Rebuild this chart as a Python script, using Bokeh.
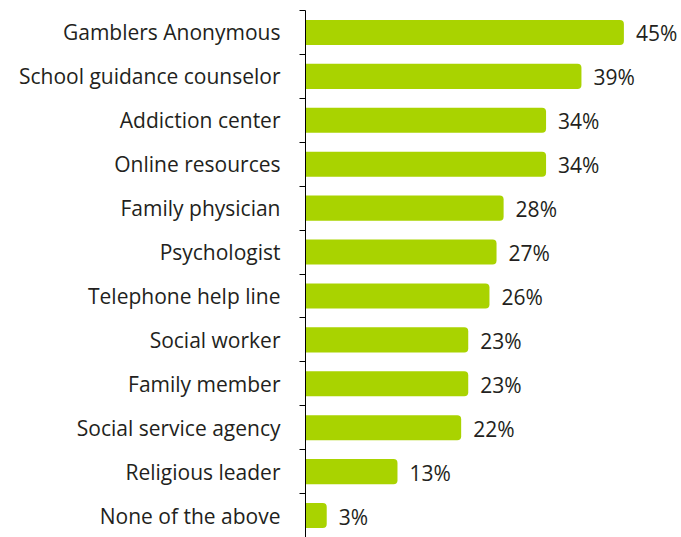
from bokeh.plotting import figure
from bokeh.models import ColumnDataSource, FixedTicker, Range1d
from bokeh.embed import file_html
from bokeh.resources import INLINE
from bokeh.core.properties import value

categories = [
    "Gamblers Anonymous",
    "School guidance counselor",
    "Addiction center",
    "Online resources",
    "Family physician",
    "Psychologist",
    "Telephone help line",
    "Social worker",
    "Family member",
    "Social service agency",
    "Religious leader",
    "None of the above",
]
values = [45, 39, 34, 34, 28, 27, 26, 23, 23, 22, 13, 3]

n = len(categories)
ypos = [n - i - 0.5 for i in range(n)]
labels = [f"{v}%" for v in values]

src = ColumnDataSource(dict(y=ypos, v=values, cat=categories, lab=labels))

FONT = "Open Sans"
TXT = "#231f20"

p = figure(width=680, height=537, output_backend="svg", toolbar_location=None,
           x_range=Range1d(0, 53.0), y_range=Range1d(0, n),
           min_border_left=305, min_border_right=0, min_border_top=10, min_border_bottom=0,
           x_axis_location=None)
p.outline_line_color = None
p.xgrid.grid_line_color = None
p.ygrid.grid_line_color = None
p.background_fill_color = "white"
p.border_fill_color = "white"

p.hbar(y="y", right="v", left=0, height=0.57, source=src, color="#a9d300",
       line_color=None, border_radius=(0, 4, 4, 0))

p.text(x="v", y="y", text="lab", source=src, x_offset=12, y_offset=1,
       text_baseline="middle", text_align="left", text_font=value(FONT),
       text_font_size="21px", text_color=TXT)

ax = p.yaxis[0]
ax.ticker = FixedTicker(ticks=ypos, minor_ticks=list(range(0, n + 1)))
ax.major_label_overrides = {y: c for y, c in zip(ypos, categories)}
ax.major_tick_line_color = None
ax.major_tick_out = 0
ax.major_tick_in = 0
ax.minor_tick_out = 6
ax.minor_tick_in = 0
ax.minor_tick_line_color = "black"
ax.axis_line_color = "black"
ax.major_label_standoff = 19
ax.major_label_text_font = FONT
ax.major_label_text_font_size = "21px"
ax.major_label_text_color = TXT

open("out.html", "w").write(file_html(p, INLINE))
